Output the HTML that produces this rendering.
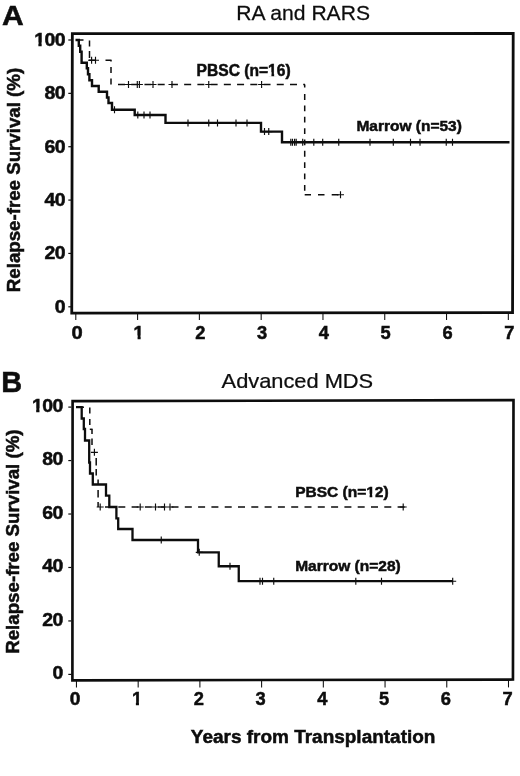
<!DOCTYPE html><html><head><meta charset="utf-8"><title>Relapse-free Survival</title>
<style>html,body{margin:0;padding:0;background:#fff}svg{display:block}text{font-family:"Liberation Sans",Arial,Helvetica,sans-serif;fill:#0d0d0d}.r{stroke:#0d0d0d;stroke-width:.25px}.b{font-weight:bold;stroke:#0d0d0d;stroke-width:.5px}</style></head><body>
<svg width="520" height="776" viewBox="0 0 520 776">
<rect width="520" height="776" fill="#fff"/>
<text class="b" transform="translate(2.0,25.3) scale(1.06,1)" font-size="28.4">A</text>
<text class="r" transform="translate(303.15,20) scale(1.03,1)" font-size="20.5" text-anchor="middle">RA and RARS</text>
<polygon points="72.35,33.7 513.2,33.5 512.55,312.65 71.75,313.1" fill="none" stroke="#0d0d0d" stroke-width="2.8" stroke-linejoin="miter"/>
<line x1="68.3" y1="306.80" x2="71" y2="306.80" stroke="#0d0d0d" stroke-width="1.2"/>
<text class="b" transform="translate(65.0,312.80) scale(1.07,1)" font-size="18.2" letter-spacing="-0.5" text-anchor="end">0</text>
<line x1="68.3" y1="253.44" x2="71" y2="253.44" stroke="#0d0d0d" stroke-width="1.2"/>
<text class="b" transform="translate(65.0,259.44) scale(1.07,1)" font-size="18.2" letter-spacing="-0.5" text-anchor="end">20</text>
<line x1="68.3" y1="200.08" x2="71" y2="200.08" stroke="#0d0d0d" stroke-width="1.2"/>
<text class="b" transform="translate(65.0,206.08) scale(1.07,1)" font-size="18.2" letter-spacing="-0.5" text-anchor="end">40</text>
<line x1="68.3" y1="146.72" x2="71" y2="146.72" stroke="#0d0d0d" stroke-width="1.2"/>
<text class="b" transform="translate(65.0,152.72) scale(1.07,1)" font-size="18.2" letter-spacing="-0.5" text-anchor="end">60</text>
<line x1="68.3" y1="93.36" x2="71" y2="93.36" stroke="#0d0d0d" stroke-width="1.2"/>
<text class="b" transform="translate(65.0,99.36) scale(1.07,1)" font-size="18.2" letter-spacing="-0.5" text-anchor="end">80</text>
<line x1="68.3" y1="40.00" x2="71" y2="40.00" stroke="#0d0d0d" stroke-width="1.2"/>
<text class="b" transform="translate(65.0,46.00) scale(1.07,1)" font-size="18.2" letter-spacing="-0.5" text-anchor="end">100</text>
<line x1="75.80" y1="313.8" x2="75.80" y2="320" stroke="#0d0d0d" stroke-width="1.05"/>
<text class="b" transform="translate(77.10,339.1) scale(1.1,1)" font-size="18.3" text-anchor="middle">0</text>
<line x1="137.59" y1="313.8" x2="137.59" y2="320" stroke="#0d0d0d" stroke-width="1.05"/>
<text class="b" transform="translate(138.66,339.1) scale(1.0,1)" font-size="18.3" text-anchor="middle">1</text>
<line x1="199.38" y1="313.8" x2="199.38" y2="320" stroke="#0d0d0d" stroke-width="1.05"/>
<text class="b" transform="translate(200.42,339.1) scale(1.0,1)" font-size="18.3" text-anchor="middle">2</text>
<line x1="261.17" y1="313.8" x2="261.17" y2="320" stroke="#0d0d0d" stroke-width="1.05"/>
<text class="b" transform="translate(262.18,339.1) scale(1.0,1)" font-size="18.3" text-anchor="middle">3</text>
<line x1="322.96" y1="313.8" x2="322.96" y2="320" stroke="#0d0d0d" stroke-width="1.05"/>
<text class="b" transform="translate(323.94,339.1) scale(1.0,1)" font-size="18.3" text-anchor="middle">4</text>
<line x1="384.75" y1="313.8" x2="384.75" y2="320" stroke="#0d0d0d" stroke-width="1.05"/>
<text class="b" transform="translate(385.70,339.1) scale(1.0,1)" font-size="18.3" text-anchor="middle">5</text>
<line x1="446.54" y1="313.8" x2="446.54" y2="320" stroke="#0d0d0d" stroke-width="1.05"/>
<text class="b" transform="translate(447.46,339.1) scale(1.0,1)" font-size="18.3" text-anchor="middle">6</text>
<line x1="508.33" y1="313.8" x2="508.33" y2="320" stroke="#0d0d0d" stroke-width="1.05"/>
<text class="b" transform="translate(509.22,339.1) scale(1.0,1)" font-size="18.3" text-anchor="middle">7</text>
<text class="b" transform="translate(20.2,180) rotate(-90) scale(1,1.03)" font-size="18.7" text-anchor="middle">Relapse-free Survival (%)</text>
<path d="M75.50,40.00 L78.80,40.00 L78.80,45.70 L80.20,45.70 L80.20,51.70 L81.60,51.70 L81.60,62.70 L86.80,62.70 L86.80,68.20 L88.00,68.20 L88.00,74.20 L89.40,74.20 L89.40,80.30 L92.00,80.30 L92.00,86.00 L98.70,86.00 L98.70,91.80 L107.00,91.80 L107.00,97.50 L108.50,97.50 L108.50,103.00 L112.00,103.00 L112.00,109.70 L134.70,109.70 L134.70,115.00 L165.50,115.00 L165.50,122.90 L261.00,122.90 L261.00,131.60 L282.00,131.60 L282.00,142.20 L509.50,142.20" fill="none" stroke="#0d0d0d" stroke-width="2.4" stroke-linejoin="miter"/>
<path d="M114.50,106.20V113.20M111.00,109.70H118.00" fill="none" stroke="#0d0d0d" stroke-width="1.15"/>
<path d="M137.80,111.50V118.50M134.30,115.00H141.30M144.00,111.50V118.50M140.50,115.00H147.50M150.00,111.50V118.50M146.50,115.00H153.50" fill="none" stroke="#0d0d0d" stroke-width="1.15"/>
<path d="M188.00,119.40V126.40M184.50,122.90H191.50M208.75,119.40V126.40M205.25,122.90H212.25M217.50,119.40V126.40M214.00,122.90H221.00M236.00,119.40V126.40M232.50,122.90H239.50M247.00,119.40V126.40M243.50,122.90H250.50" fill="none" stroke="#0d0d0d" stroke-width="1.15"/>
<path d="M264.50,128.10V135.10M261.00,131.60H268.00M268.75,128.10V135.10M265.25,131.60H272.25" fill="none" stroke="#0d0d0d" stroke-width="1.15"/>
<path d="M290.80,138.70V145.70M287.30,142.20H294.30M292.50,138.70V145.70M289.00,142.20H296.00M294.60,138.70V145.70M291.10,142.20H298.10M296.20,138.70V145.70M292.70,142.20H299.70M302.70,138.70V145.70M299.20,142.20H306.20M313.80,138.70V145.70M310.30,142.20H317.30M322.70,138.70V145.70M319.20,142.20H326.20M338.75,138.70V145.70M335.25,142.20H342.25M370.00,138.70V145.70M366.50,142.20H373.50M393.30,138.70V145.70M389.80,142.20H396.80M410.50,138.70V145.70M407.00,142.20H414.00M420.00,138.70V145.70M416.50,142.20H423.50M446.25,138.70V145.70M442.75,142.20H449.75M452.50,138.70V145.70M449.00,142.20H456.00" fill="none" stroke="#0d0d0d" stroke-width="1.15"/>
<path d="M76.00,40.00H83.50" fill="none" stroke="#0d0d0d" stroke-width="1.5"/>
<path d="M89.50,40.50V46.50M89.50,51.00V58.00" fill="none" stroke="#0d0d0d" stroke-width="1.5"/>
<path d="M88.80,60.20H95.00M105.50,60.20H111.50" fill="none" stroke="#0d0d0d" stroke-width="1.5"/>
<path d="M111.00,60.20V61.50M111.00,67.00V73.00M111.00,78.50V84.50" fill="none" stroke="#0d0d0d" stroke-width="1.5"/>
<path d="M118.00,84.50H125.00M131.23,84.50H138.23M144.46,84.50H151.46M157.69,84.50H164.69M170.92,84.50H177.92M184.15,84.50H191.15M197.38,84.50H204.38M210.61,84.50H217.61M223.84,84.50H230.84M237.07,84.50H244.07M250.30,84.50H257.30M263.53,84.50H270.53M276.76,84.50H283.76M289.99,84.50H296.99M303.22,84.50H305.00" fill="none" stroke="#0d0d0d" stroke-width="1.5"/>
<path d="M304.70,84.50V87.50M304.70,94.10V99.90M304.70,105.45V111.25M304.70,116.80V122.60M304.70,128.15V133.95M304.70,139.50V145.30M304.70,150.85V156.65M304.70,162.20V168.00M304.70,173.55V179.35M304.70,184.90V190.70" fill="none" stroke="#0d0d0d" stroke-width="1.5"/>
<path d="M304.70,194.70H311.00M318.00,194.70H324.50M331.70,194.70H338.50" fill="none" stroke="#0d0d0d" stroke-width="1.5"/>
<path d="M91.60,56.70V63.70M88.10,60.20H95.10M95.50,56.70V63.70M92.00,60.20H99.00" fill="none" stroke="#0d0d0d" stroke-width="1.15"/>
<path d="M128.50,81.00V88.00M125.00,84.50H132.00M137.30,81.00V88.00M133.80,84.50H140.80M139.40,81.00V88.00M135.90,84.50H142.90M153.00,81.00V88.00M149.50,84.50H156.50M172.00,81.00V88.00M168.50,84.50H175.50M208.75,81.00V88.00M205.25,84.50H212.25M261.60,81.00V88.00M258.10,84.50H265.10" fill="none" stroke="#0d0d0d" stroke-width="1.15"/>
<path d="M340.50,191.20V198.20M337.00,194.70H344.00" fill="none" stroke="#0d0d0d" stroke-width="1.15"/>
<text class="b" x="196.6" y="75.5" font-size="15.6">PBSC (n=16)</text>
<text class="b" x="356.4" y="131.1" font-size="15.5">Marrow (n=53)</text>
<text class="b" transform="translate(1.2,392.2) scale(0.99,1)" font-size="29.2">B</text>
<text class="r" transform="translate(297.4,387.9) scale(1.065,1)" font-size="20.5" text-anchor="middle">Advanced MDS</text>
<polygon points="72.6,401.1 513.5,400.15 512.95,679.55 72.4,680.4" fill="none" stroke="#0d0d0d" stroke-width="2.65" stroke-linejoin="miter"/>
<line x1="68.3" y1="674.40" x2="71.3" y2="674.40" stroke="#0d0d0d" stroke-width="1.2"/>
<text class="b" transform="translate(62.8,679.25) scale(1.07,1)" font-size="18.2" letter-spacing="-0.5" text-anchor="end">0</text>
<line x1="68.3" y1="620.94" x2="71.3" y2="620.94" stroke="#0d0d0d" stroke-width="1.2"/>
<text class="b" transform="translate(62.8,625.79) scale(1.07,1)" font-size="18.2" letter-spacing="-0.5" text-anchor="end">20</text>
<line x1="68.3" y1="567.48" x2="71.3" y2="567.48" stroke="#0d0d0d" stroke-width="1.2"/>
<text class="b" transform="translate(62.8,572.33) scale(1.07,1)" font-size="18.2" letter-spacing="-0.5" text-anchor="end">40</text>
<line x1="68.3" y1="514.02" x2="71.3" y2="514.02" stroke="#0d0d0d" stroke-width="1.2"/>
<text class="b" transform="translate(62.8,518.87) scale(1.07,1)" font-size="18.2" letter-spacing="-0.5" text-anchor="end">60</text>
<line x1="68.3" y1="460.56" x2="71.3" y2="460.56" stroke="#0d0d0d" stroke-width="1.2"/>
<text class="b" transform="translate(62.8,465.41) scale(1.07,1)" font-size="18.2" letter-spacing="-0.5" text-anchor="end">80</text>
<line x1="68.3" y1="407.10" x2="71.3" y2="407.10" stroke="#0d0d0d" stroke-width="1.2"/>
<text class="b" transform="translate(62.8,411.95) scale(1.07,1)" font-size="18.2" letter-spacing="-0.5" text-anchor="end">100</text>
<line x1="76.45" y1="681" x2="76.45" y2="687.4" stroke="#0d0d0d" stroke-width="1.05"/>
<text class="b" transform="translate(75.20,705.0) scale(1.05,1)" font-size="18.3" text-anchor="middle">0</text>
<line x1="138.17" y1="681" x2="138.17" y2="687.4" stroke="#0d0d0d" stroke-width="1.05"/>
<text class="b" transform="translate(136.96,705.0) scale(1.0,1)" font-size="18.3" text-anchor="middle">1</text>
<line x1="199.89" y1="681" x2="199.89" y2="687.4" stroke="#0d0d0d" stroke-width="1.05"/>
<text class="b" transform="translate(198.72,705.0) scale(1.0,1)" font-size="18.3" text-anchor="middle">2</text>
<line x1="261.61" y1="681" x2="261.61" y2="687.4" stroke="#0d0d0d" stroke-width="1.05"/>
<text class="b" transform="translate(260.48,705.0) scale(1.0,1)" font-size="18.3" text-anchor="middle">3</text>
<line x1="323.33" y1="681" x2="323.33" y2="687.4" stroke="#0d0d0d" stroke-width="1.05"/>
<text class="b" transform="translate(322.24,705.0) scale(1.0,1)" font-size="18.3" text-anchor="middle">4</text>
<line x1="385.05" y1="681" x2="385.05" y2="687.4" stroke="#0d0d0d" stroke-width="1.05"/>
<text class="b" transform="translate(384.00,705.0) scale(1.0,1)" font-size="18.3" text-anchor="middle">5</text>
<line x1="446.77" y1="681" x2="446.77" y2="687.4" stroke="#0d0d0d" stroke-width="1.05"/>
<text class="b" transform="translate(445.76,705.0) scale(1.0,1)" font-size="18.3" text-anchor="middle">6</text>
<line x1="508.49" y1="681" x2="508.49" y2="687.4" stroke="#0d0d0d" stroke-width="1.05"/>
<text class="b" transform="translate(507.52,705.0) scale(1.0,1)" font-size="18.3" text-anchor="middle">7</text>
<text class="b" transform="translate(19.4,541.6) rotate(-90) scale(1,1.03)" font-size="18.7" text-anchor="middle">Relapse-free Survival (%)</text>
<text class="b" transform="translate(313.1,742.9) scale(1.021,1)" font-size="18.6" text-anchor="middle">Years from Transplantation</text>
<path d="M76.00,407.20 L81.70,407.20 L81.70,418.50 L83.80,418.50 L83.80,429.00 L85.00,429.00 L85.00,440.50 L89.20,440.50 L89.20,462.50 L90.00,462.50 L90.00,473.50 L92.80,473.50 L92.80,484.50 L106.00,484.50 L106.00,495.70 L109.30,495.70 L109.30,507.00 L116.40,507.00 L116.40,518.30 L118.20,518.30 L118.20,529.00 L132.50,529.00 L132.50,540.00 L198.00,540.00 L198.00,552.30 L218.75,552.30 L218.75,566.25 L238.75,566.25 L238.75,581.20 L452.70,581.20" fill="none" stroke="#0d0d0d" stroke-width="2.3" stroke-linejoin="miter"/>
<path d="M161.25,536.50V543.50M157.75,540.00H164.75" fill="none" stroke="#0d0d0d" stroke-width="1.15"/>
<path d="M199.25,548.80V555.80M195.75,552.30H202.75" fill="none" stroke="#0d0d0d" stroke-width="1.15"/>
<path d="M230.00,562.75V569.75M226.50,566.25H233.50" fill="none" stroke="#0d0d0d" stroke-width="1.15"/>
<path d="M260.00,577.70V584.70M256.50,581.20H263.50M262.50,577.70V584.70M259.00,581.20H266.00M273.75,577.70V584.70M270.25,581.20H277.25M355.80,577.70V584.70M352.30,581.20H359.30M381.50,577.70V584.70M378.00,581.20H385.00M452.70,577.70V584.70M449.20,581.20H456.20" fill="none" stroke="#0d0d0d" stroke-width="1.15"/>
<path d="M76.00,407.20H84.00" fill="none" stroke="#0d0d0d" stroke-width="1.5"/>
<path d="M89.80,407.50V413.50M89.80,419.00V425.00" fill="none" stroke="#0d0d0d" stroke-width="1.5"/>
<path d="M89.80,429.30H92.60" fill="none" stroke="#0d0d0d" stroke-width="1.5"/>
<path d="M92.00,429.30V434.00M92.00,438.50V445.00" fill="none" stroke="#0d0d0d" stroke-width="1.5"/>
<path d="M96.20,458.00V465.50M96.20,469.00V475.50" fill="none" stroke="#0d0d0d" stroke-width="1.5"/>
<path d="M98.10,479.50V484.50M98.10,490.00V497.50M98.10,502.00V507.00" fill="none" stroke="#0d0d0d" stroke-width="1.5"/>
<path d="M105.00,507.00H112.00M118.30,507.00H125.30M131.60,507.00H138.60M144.90,507.00H151.90M158.20,507.00H165.20M171.50,507.00H178.50M184.80,507.00H191.80M198.10,507.00H205.10M211.40,507.00H218.40M224.70,507.00H231.70M238.00,507.00H245.00M251.30,507.00H258.30M264.60,507.00H271.60M277.90,507.00H284.90M291.20,507.00H298.20M304.50,507.00H311.50M317.80,507.00H324.80M331.10,507.00H338.10M344.40,507.00H351.40M357.70,507.00H364.70M371.00,507.00H378.00M384.30,507.00H391.30M397.60,507.00H404.60" fill="none" stroke="#0d0d0d" stroke-width="1.5"/>
<path d="M94.40,448.80V455.80M90.90,452.30H97.90" fill="none" stroke="#0d0d0d" stroke-width="1.15"/>
<path d="M100.20,503.50V510.50M96.70,507.00H103.70M140.20,503.50V510.50M136.70,507.00H143.70M155.50,503.50V510.50M152.00,507.00H159.00M164.50,503.50V510.50M161.00,507.00H168.00M170.00,503.50V510.50M166.50,507.00H173.50M403.20,503.50V510.50M399.70,507.00H406.70" fill="none" stroke="#0d0d0d" stroke-width="1.15"/>
<text class="b" x="295.2" y="497" font-size="15.5">PBSC (n=12)</text>
<text class="b" x="295.2" y="570.5" font-size="15.5">Marrow (n=28)</text>
<g transform="translate(65.0,46.00) scale(1.07,1)"><rect x="-28.77" y="-3.62" width="3.89" height="4.82" fill="#fff"/><rect x="-21.81" y="-3.62" width="3.42" height="4.82" fill="#fff"/></g>
<g transform="translate(138.66,339.1) scale(1.0,1)"><rect x="-5.00" y="-3.63" width="3.91" height="4.83" fill="#fff"/><rect x="1.99" y="-3.63" width="3.44" height="4.83" fill="#fff"/></g>
<g><rect x="267.98" y="72.14" width="3.45" height="4.56" fill="#fff"/><rect x="274.14" y="72.14" width="3.02" height="4.56" fill="#fff"/></g>
<g transform="translate(62.8,411.95) scale(1.07,1)"><rect x="-28.77" y="-3.62" width="3.89" height="4.82" fill="#fff"/><rect x="-21.81" y="-3.62" width="3.42" height="4.82" fill="#fff"/></g>
<g transform="translate(136.96,705.0) scale(1.0,1)"><rect x="-5.00" y="-3.63" width="3.91" height="4.83" fill="#fff"/><rect x="1.99" y="-3.63" width="3.44" height="4.83" fill="#fff"/></g>
<g><rect x="366.15" y="493.65" width="3.44" height="4.55" fill="#fff"/><rect x="372.28" y="493.65" width="3.00" height="4.55" fill="#fff"/></g>
</svg></body></html>
